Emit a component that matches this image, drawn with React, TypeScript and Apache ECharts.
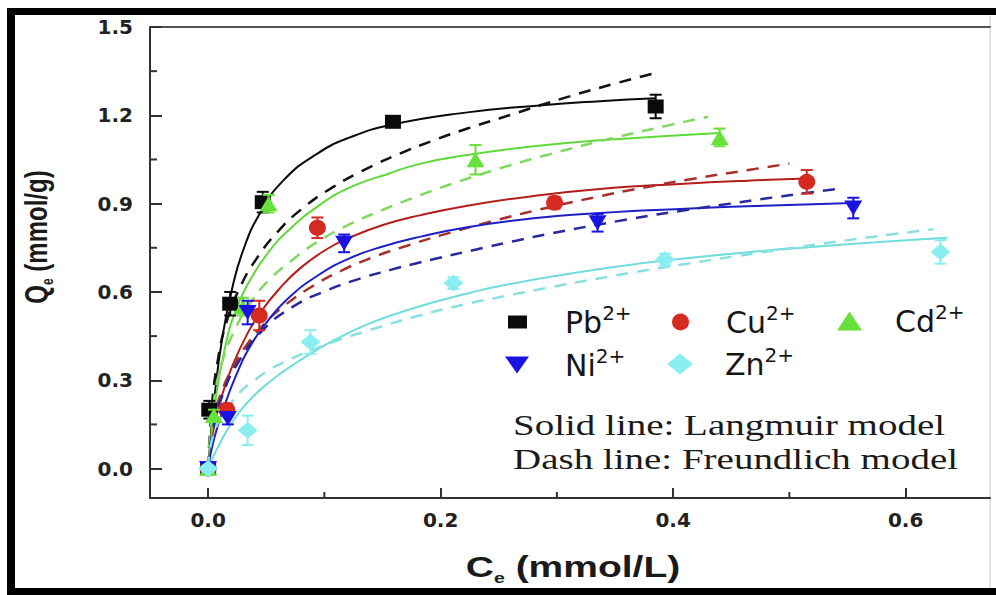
import { useEffect, useRef } from 'react';
import * as echarts from 'echarts';

// Axis ticks
const xMajorTicks = [0, 0.2, 0.4, 0.6];
const xMinorTicks = [0.1, 0.3, 0.5];
const yMajorTicks = [0, 0.3, 0.6, 0.9, 1.2, 1.5];
const yMinorTicks = [0.15, 0.45, 0.75, 1.05, 1.35];

// Measured points [Ce, Qe] and error half-widths
const pbPoints = [[0, 0], [0.001, 0.2], [0.019, 0.56], [0.047, 0.905], [0.159, 1.178], [0.385, 1.23]];
const pbErr = [0.01, 0.03, 0.04, 0.035, 0.01, 0.04];
const cuPoints = [[0, 0], [0.016, 0.2], [0.044, 0.52], [0.094, 0.818], [0.298, 0.903], [0.515, 0.974]];
const cuErr = [0.01, 0.02, 0.05, 0.035, 0.02, 0.04];
const cdPoints = [[0, 0], [0.005, 0.18], [0.03, 0.55], [0.052, 0.9], [0.23, 1.049], [0.44, 1.125]];
const cdErr = [0.01, 0.02, 0.03, 0.03, 0.05, 0.03];
const niPoints = [[0, 0], [0.017, 0.17], [0.034, 0.53], [0.117, 0.765], [0.335, 0.835], [0.555, 0.885]];
const niErr = [0.01, 0.02, 0.04, 0.03, 0.03, 0.035];
const znPoints = [[0, 0], [0.034, 0.13], [0.088, 0.43], [0.211, 0.63], [0.393, 0.71], [0.63, 0.736]];
const znErr = [0.01, 0.05, 0.04, 0.02, 0.02, 0.04];

// Fitted curves: Langmuir (solid), Freundlich (dashed)
const pbLangmuir = [[0, 0], [0.006, 0.26], [0.012, 0.44], [0.02, 0.6], [0.03, 0.74], [0.045, 0.87], [0.065, 0.98], [0.094, 1.07], [0.122, 1.125], [0.158, 1.168], [0.223, 1.21], [0.28, 1.232], [0.337, 1.248], [0.385, 1.258]];
const pbFreundlich = [[0, 0], [0.003, 0.2], [0.008, 0.36], [0.016, 0.5], [0.028, 0.62], [0.042, 0.715], [0.06, 0.805], [0.08, 0.88], [0.107, 0.955], [0.137, 1.02], [0.165, 1.07], [0.194, 1.115], [0.223, 1.155], [0.251, 1.19], [0.303, 1.255], [0.352, 1.31], [0.386, 1.345]];
const cdLangmuir = [[0, 0], [0.006, 0.22], [0.015, 0.42], [0.025, 0.55], [0.036, 0.64], [0.051, 0.73], [0.068, 0.805], [0.094, 0.89], [0.122, 0.955], [0.154, 1.0], [0.182, 1.035], [0.223, 1.065], [0.28, 1.095], [0.337, 1.115], [0.44, 1.14]];
const cdFreundlich = [[0, 0], [0.004, 0.2], [0.012, 0.36], [0.024, 0.48], [0.036, 0.56], [0.051, 0.635], [0.073, 0.71], [0.094, 0.77], [0.122, 0.83], [0.151, 0.88], [0.18, 0.925], [0.208, 0.965], [0.251, 1.02], [0.294, 1.068], [0.337, 1.112], [0.395, 1.165], [0.43, 1.195]];
const cuLangmuir = [[0, 0], [0.004, 0.12], [0.012, 0.25], [0.021, 0.35], [0.034, 0.46], [0.045, 0.53], [0.06, 0.605], [0.079, 0.68], [0.102, 0.745], [0.122, 0.785], [0.151, 0.828], [0.182, 0.86], [0.223, 0.893], [0.28, 0.926], [0.337, 0.95], [0.406, 0.967], [0.464, 0.978], [0.515, 0.985]];
const cuFreundlich = [[0, 0], [0.004, 0.15], [0.012, 0.265], [0.023, 0.355], [0.035, 0.43], [0.048, 0.49], [0.0645, 0.55], [0.088, 0.615], [0.116, 0.675], [0.142, 0.718], [0.171, 0.757], [0.2, 0.792], [0.251, 0.847], [0.294, 0.888], [0.337, 0.925], [0.366, 0.948], [0.415, 0.983], [0.466, 1.015], [0.5, 1.036]];
const niLangmuir = [[0, 0], [0.005, 0.1], [0.016, 0.235], [0.025, 0.325], [0.034, 0.4], [0.051, 0.5], [0.068, 0.575], [0.094, 0.655], [0.122, 0.715], [0.151, 0.755], [0.182, 0.787], [0.223, 0.82], [0.28, 0.85], [0.337, 0.868], [0.406, 0.882], [0.464, 0.891], [0.52, 0.898], [0.555, 0.902]];
const niFreundlich = [[0, 0], [0.004, 0.13], [0.012, 0.245], [0.025, 0.355], [0.047, 0.47], [0.073, 0.55], [0.099, 0.6], [0.128, 0.642], [0.157, 0.675], [0.182, 0.7], [0.237, 0.75], [0.266, 0.775], [0.294, 0.798], [0.366, 0.85], [0.406, 0.875], [0.449, 0.9], [0.481, 0.918], [0.507, 0.932], [0.541, 0.95]];
const znLangmuir = [[0, 0], [0.01, 0.085], [0.022, 0.165], [0.04, 0.25], [0.058, 0.31], [0.073, 0.352], [0.09, 0.395], [0.11, 0.44], [0.137, 0.49], [0.165, 0.53], [0.194, 0.565], [0.223, 0.595], [0.251, 0.62], [0.3, 0.655], [0.346, 0.683], [0.389, 0.705], [0.464, 0.735], [0.52, 0.753], [0.578, 0.77], [0.636, 0.784]];
const znFreundlich = [[0, 0], [0.005, 0.12], [0.02, 0.225], [0.045, 0.315], [0.07, 0.37], [0.1075, 0.43], [0.137, 0.468], [0.18, 0.518], [0.223, 0.56], [0.245, 0.578], [0.297, 0.618], [0.346, 0.653], [0.374, 0.672], [0.406, 0.692], [0.455, 0.722], [0.507, 0.752], [0.558, 0.78], [0.587, 0.795], [0.624, 0.813]];

const metals = [
  { name: 'Pb2+', base: 'Pb', points: pbPoints, err: pbErr, lang: pbLangmuir, freu: pbFreundlich, symbol: 'rect', rotate: 0, size: [16, 14], color: '#0a0a0a', solid: '#0a0a0a', dash: '#111111', legIcon: 'rect', legLeft: 508, legTop: 303, legW: 19, legH: 13, pad: 33 },
  { name: 'Cu2+', base: 'Cu', points: cuPoints, err: cuErr, lang: cuLangmuir, freu: cuFreundlich, symbol: 'circle', rotate: 0, size: [17, 16], color: '#d42a20', solid: '#b51d1d', dash: '#a8302a', legIcon: 'circle', legLeft: 672, legTop: 303, legW: 21, legH: 17, pad: 30 },
  { name: 'Cd2+', base: 'Cd', points: cdPoints, err: cdErr, lang: cdLangmuir, freu: cdFreundlich, symbol: 'triangle', rotate: 0, size: [18, 15], color: '#66e03a', solid: '#5fd93a', dash: '#7fd860', legIcon: 'triangle', legLeft: 837, legTop: 302, legW: 25, legH: 19, pad: 28 },
  { name: 'Ni2+', base: 'Ni', points: niPoints, err: niErr, lang: niLangmuir, freu: niFreundlich, symbol: 'triangle', rotate: 180, size: [18, 15], color: '#1a12e0', solid: '#1e1ec8', dash: '#28289e', legIcon: 'path://M0,0L24,0L12,17Z', legLeft: 505, legTop: 346, legW: 24, legH: 17, pad: 31 },
  { name: 'Zn2+', base: 'Zn', points: znPoints, err: znErr, lang: znLangmuir, freu: znFreundlich, symbol: 'diamond', rotate: 0, size: [20, 17], color: '#8aeef0', solid: '#70dcdc', dash: '#8ae0e0', legIcon: 'diamond', legLeft: 667, legTop: 345, legW: 26, legH: 21, pad: 27 },
];

const X_MIN = -0.05;
const X_MAX = 0.6726;
const Y_MIN = -0.1;
const Y_MAX = 1.5;

function buildOption() {
  const series: any[] = [];
  metals.forEach((m) => {
    series.push({
      name: m.name + ' Langmuir',
      type: 'line',
      data: m.lang,
      smooth: 0.5,
      showSymbol: false,
      silent: true,
      z: 2,
      lineStyle: { color: m.solid, width: 2 },
    });
    series.push({
      name: m.name + ' Freundlich',
      type: 'line',
      data: m.freu,
      smooth: 0.5,
      showSymbol: false,
      silent: true,
      z: 2,
      lineStyle: { color: m.dash, width: 2.5, type: [12, 9] },
    });
  });
  metals.forEach((m, mi) => {
    series.push({
      name: m.name + ' error',
      type: 'custom',
      data: m.points.map((p, i) => [p[0], p[1], m.err[i]]),
      z: 3 + mi * 2,
      silent: true,
      renderItem: (_params: any, api: any) => {
        const x = api.value(0);
        const y = api.value(1);
        const e = api.value(2);
        const top = api.coord([x, y + e]);
        const bot = api.coord([x, y - e]);
        const w = 6;
        const st = { stroke: m.color, lineWidth: 2 };
        return {
          type: 'group',
          children: [
            { type: 'line', shape: { x1: top[0], y1: top[1], x2: bot[0], y2: bot[1] }, style: st },
            { type: 'line', shape: { x1: top[0] - w, y1: top[1], x2: top[0] + w, y2: top[1] }, style: st },
            { type: 'line', shape: { x1: bot[0] - w, y1: bot[1], x2: bot[0] + w, y2: bot[1] }, style: st },
          ],
        };
      },
    });
    series.push({
      name: m.name,
      type: 'scatter',
      data: m.points,
      symbol: m.symbol,
      symbolRotate: m.rotate,
      symbolSize: m.size,
      itemStyle: { color: m.color, opacity: 1 },
      z: 4 + mi * 2,
    });
  });

  // Minor ticks: value through the axis scale, placed on the grid edge
  series.push({
    name: 'x minor ticks',
    type: 'custom',
    data: xMinorTicks.map((v) => [v, 0.5]),
    z: 20,
    silent: true,
    renderItem: (params: any, api: any) => {
      const cs = params.coordSys;
      const px = api.coord([api.value(0), 0.5])[0];
      const bottom = cs.y + cs.height;
      return {
        type: 'line',
        shape: { x1: px, y1: bottom, x2: px, y2: bottom - 6 },
        style: { stroke: '#333', lineWidth: 2 },
      };
    },
  });
  series.push({
    name: 'y minor ticks',
    type: 'custom',
    data: yMinorTicks.map((v) => [0.3, v]),
    z: 20,
    silent: true,
    renderItem: (params: any, api: any) => {
      const cs = params.coordSys;
      const py = api.coord([0.3, api.value(1)])[1];
      const left = cs.x;
      return {
        type: 'line',
        shape: { x1: left, y1: py, x2: left + 7, y2: py },
        style: { stroke: '#333', lineWidth: 2 },
      };
    },
  });

  const legends = metals.map((m) => ({
    data: [{ name: m.name, icon: m.legIcon }],
    left: m.legLeft,
    top: m.legTop,
    padding: 0,
    itemWidth: m.legW,
    itemHeight: m.legH,
    selectedMode: false,
    formatter: () => `{b|${m.base}}{s|2+}`,
    textStyle: {
      rich: {
        b: { fontSize: 30, fontFamily: 'DejaVu Sans', color: '#151515', lineHeight: 40, padding: [0, 0, 0, m.pad] },
        s: { fontSize: 20, fontFamily: 'DejaVu Sans', color: '#151515', lineHeight: 22, padding: [0, 0, 18, 0] },
      },
    },
  }));

  const tickLine = { color: '#333', width: 2 };
  const labelStyle = { fontFamily: 'DejaVu Sans', fontWeight: 'bold' as const, fontSize: 20, color: '#222' };
  const titleFont = { fontWeight: 'bold' as const, fontFamily: 'Liberation Sans', fill: '#1a1a1a' };

  return {
    animation: false,
    backgroundColor: '#ffffff',
    grid: { left: 150, top: 27, right: 6, bottom: 97, containLabel: false },
    legend: legends,
    xAxis: [
      {
        type: 'value', min: X_MIN, max: X_MAX, position: 'bottom',
        axisLine: { show: true, onZero: false, lineStyle: { color: '#333', width: 2 } },
        axisTick: { show: true, inside: true, length: 10, customValues: xMajorTicks, lineStyle: tickLine },
        axisLabel: { show: true, customValues: xMajorTicks, formatter: (v: number) => v.toFixed(1), margin: 12, ...labelStyle },
        splitLine: { show: false },
      },
      {
        type: 'value', min: X_MIN, max: X_MAX, position: 'top',
        axisLine: { show: true, onZero: false, lineStyle: { color: '#555', width: 2 } },
        axisTick: { show: false },
        axisLabel: { show: false },
        splitLine: { show: false },
      },
    ],
    yAxis: [
      {
        type: 'value', min: Y_MIN, max: Y_MAX, position: 'left',
        axisLine: { show: true, onZero: false, lineStyle: { color: '#333', width: 2 } },
        axisTick: { show: true, inside: true, length: 12, customValues: yMajorTicks, lineStyle: tickLine },
        axisLabel: { show: true, customValues: yMajorTicks, formatter: (v: number) => v.toFixed(1), margin: 17, ...labelStyle },
        splitLine: { show: false },
      },
    ],
    graphic: [
      { type: 'rect', shape: { x: 7, y: 8, width: 989, height: 7 }, style: { fill: '#000' }, silent: true },
      { type: 'rect', shape: { x: 7, y: 8, width: 8, height: 587 }, style: { fill: '#000' }, silent: true },
      { type: 'rect', shape: { x: 7, y: 588, width: 989, height: 7 }, style: { fill: '#000' }, silent: true },
      { type: 'line', shape: { x1: 990, y1: 15, x2: 990, y2: 588 }, style: { stroke: '#c8c8c8', lineWidth: 1 }, silent: true },
      {
        type: 'text', x: 573, y: 566.5, scaleX: 1.3, silent: true,
        style: {
          text: '{c|C}{e|e}{t| (mmol/L)}',
          align: 'center', verticalAlign: 'middle',
          rich: {
            c: { fontSize: 30, lineHeight: 44, ...titleFont },
            e: { fontSize: 15, lineHeight: 15, padding: [26, 0, 3, 0], ...titleFont },
            t: { fontSize: 30, lineHeight: 44, ...titleFont },
          },
        },
      },
      {
        type: 'text', x: 36, y: 237, rotation: Math.PI / 2, scaleY: 1.3, silent: true,
        style: {
          text: '{q|Q}{e|e}{t| (mmol/g)}',
          align: 'center', verticalAlign: 'middle',
          rich: {
            q: { fontSize: 24, lineHeight: 36, ...titleFont },
            e: { fontSize: 12, lineHeight: 12, padding: [21, 0, 3, 0], ...titleFont },
            t: { fontSize: 24, lineHeight: 36, ...titleFont },
          },
        },
      },
      {
        type: 'text', x: 513, y: 425, scaleX: 1.3, silent: true,
        style: { text: 'Solid line: Langmuir model', fontSize: 30, fontFamily: 'Liberation Serif', fill: '#1a1a1a', align: 'left', verticalAlign: 'middle' },
      },
      {
        type: 'text', x: 513, y: 459, scaleX: 1.3, silent: true,
        style: { text: 'Dash line: Freundlich model', fontSize: 30, fontFamily: 'Liberation Serif', fill: '#1a1a1a', align: 'left', verticalAlign: 'middle' },
      },
    ],
    series,
  };
}

export default function App() {
  const ref = useRef<HTMLDivElement>(null);
  useEffect(() => {
    if (!ref.current) return;
    const chart = echarts.init(ref.current, null, { renderer: 'svg' });
    chart.setOption(buildOption() as any);
    return () => chart.dispose();
  }, []);
  return (
    <div
      ref={ref}
      style={{ position: 'fixed', left: 0, top: 0, width: 996, height: 595, background: '#fff' }}
    />
  );
}
